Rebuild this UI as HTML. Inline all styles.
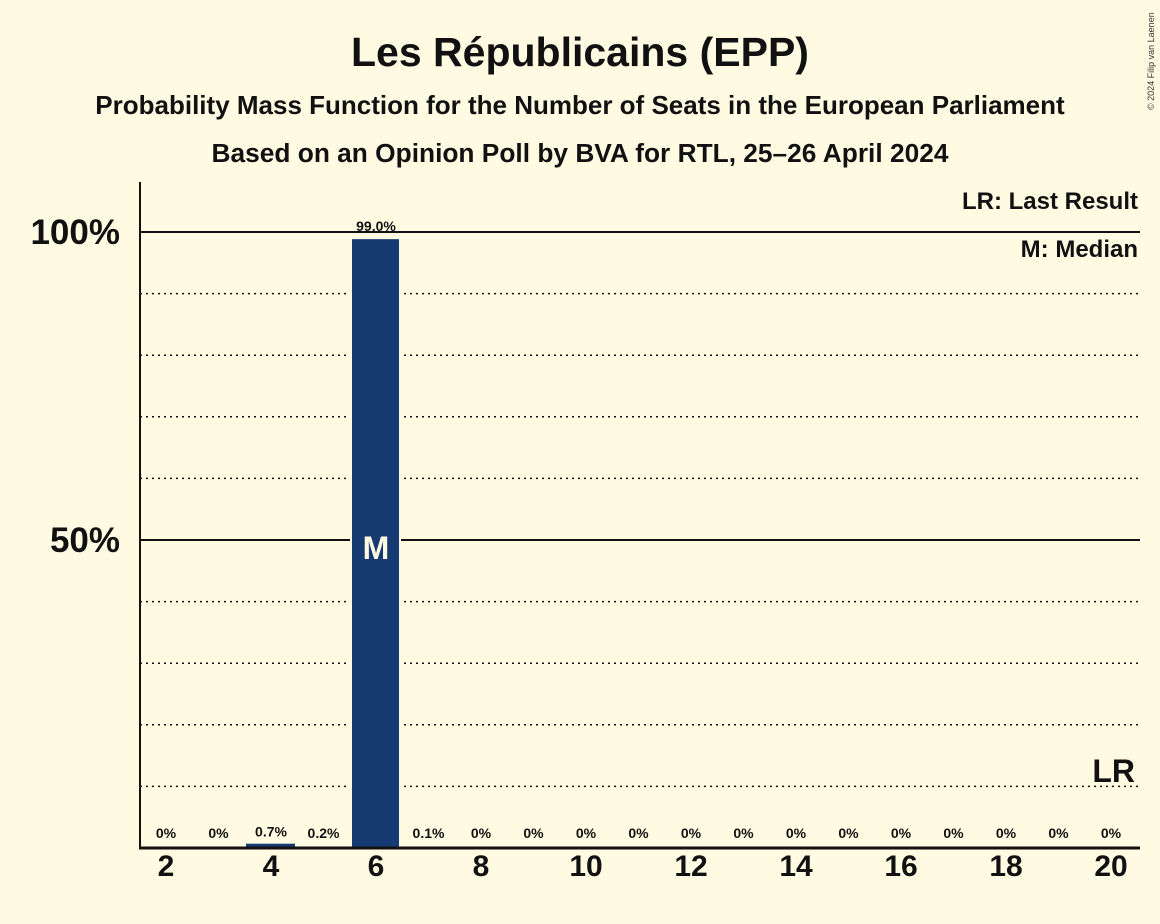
<!DOCTYPE html>
<html><head><meta charset="utf-8"><style>
body{margin:0;background:#fffbe3;}
svg{display:block;font-family:"Liberation Sans",sans-serif;}
</style></head><body>
<svg id="c" width="1160" height="924">
<rect width="1160" height="924" fill="#fffbe3"/>
<text x="580" y="66" text-anchor="middle" font-size="41" font-weight="bold" fill="#111">Les Républicains (EPP)</text>
<text x="580" y="114" text-anchor="middle" font-size="26" font-weight="bold" fill="#111">Probability Mass Function for the Number of Seats in the European Parliament</text>
<text x="580" y="162" text-anchor="middle" font-size="26.3" font-weight="bold" fill="#111">Based on an Opinion Poll by BVA for RTL, 25–26 April 2024</text>
<text x="1154" y="110" font-size="9" fill="#333" transform="rotate(-90 1154 110)">© 2024 Filip van Laenen</text>
<g id="grid"></g>
<g id="bars"></g>
<text x="1138" y="209" text-anchor="end" font-size="24" font-weight="bold" fill="#111">LR: Last Result</text>
<text x="1138" y="257" text-anchor="end" font-size="24" font-weight="bold" fill="#111">M: Median</text>
</svg>
<script>
const seats=[2,3,4,5,6,7,8,9,10,11,12,13,14,15,16,17,18,19,20];
const probs=[0,0,0.7,0.2,99.0,0.1,0,0,0,0,0,0,0,0,0,0,0,0,0];
const labels=["0%","0%","0.7%","0.2%","99.0%","0.1%","0%","0%","0%","0%","0%","0%","0%","0%","0%","0%","0%","0%","0%"];
const medianSeat=6;
const lastResult=20;
const yTicks=[10,20,30,40,50,60,70,80,90,100];
const NS="http://www.w3.org/2000/svg";
const x=s=>166+(s-2)*52.5;
const y=p=>848-p*6.16;
function mk(t,a,parent){const e=document.createElementNS(NS,t);for(const k in a)e.setAttribute(k,a[k]);parent.appendChild(e);return e;}
const g=document.getElementById('grid'),b=document.getElementById('bars');
yTicks.forEach(v=>{
  const major=v%50===0;
  const l=mk('line',{x1:140,x2:1140,y1:y(v),y2:y(v),stroke:'#111','stroke-width':major?2:1.5,'stroke-dasharray':major?'':'2,4'},g);
  
  
  if(major){const t=mk('text',{x:120,y:y(v)+12,'text-anchor':'end','font-size':35,'font-weight':'bold',fill:'#111'},g);t.textContent=v+'%';
  
  }
});
seats.forEach((s,i)=>{
  const p=probs[i];
  if(p>0){const h=848-y(p);
    const r=mk('rect',{x:x(s)-25,y:848-h,width:49,height:h,fill:'#163a72',stroke:p>50?'#fffbe3':'none','stroke-width':p>50?2:0},b);
    
    }
  const ly=p>0.5?y(p)-7:838;
  const t=mk('text',{x:x(s),y:ly,'text-anchor':'middle','font-size':14,'font-weight':'bold',fill:'#111'},b);t.textContent=labels[i];
  
  
  if(s%2===0){const tt=mk('text',{x:x(s),y:876,'text-anchor':'middle','font-size':30,'font-weight':'bold',fill:'#111'},b);tt.textContent=s;
  
  }
  if(s===medianSeat){const m=mk('text',{x:x(s),y:y(50)+19,'text-anchor':'middle','font-size':32,'font-weight':'bold',fill:'#fffbe3'},b);m.textContent='M';
  
  }
  if(s===lastResult){const m=mk('text',{x:x(s)+24,y:782,'text-anchor':'end','font-size':32,'font-weight':'bold',fill:'#111'},b);m.textContent='LR';
  
  }
});
const ax=mk('line',{x1:140,x2:140,y1:182,y2:849,stroke:'#111','stroke-width':2},b);


const bx=mk('line',{x1:139,x2:1140,y1:848,y2:848,stroke:'#111','stroke-width':3},b);


</script>
</body></html>
